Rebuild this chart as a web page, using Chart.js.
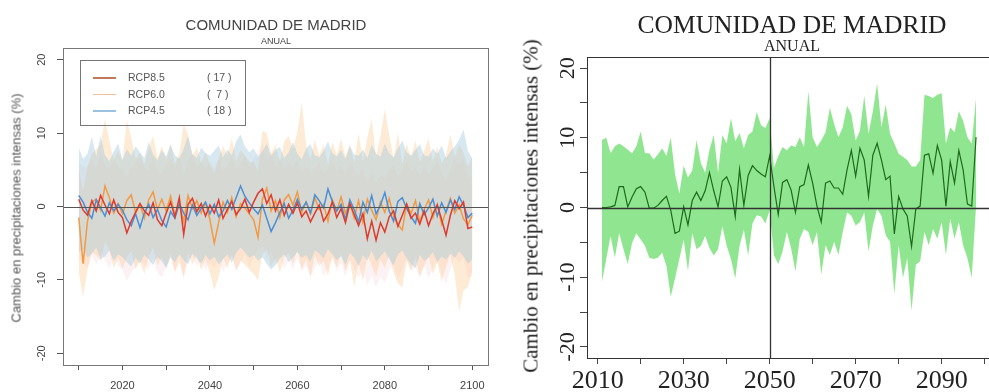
<!DOCTYPE html>
<html>
<head>
<meta charset="utf-8">
<script src="https://cdn.jsdelivr.net/npm/chart.js@4.4.1/dist/chart.umd.min.js"></script>
<style>
  html, body { margin: 0; padding: 0; background: #fff; overflow: hidden; }
  #page { position: relative; width: 989px; height: 392px; overflow: hidden; }
  canvas { position: absolute; top: 0; }
  #left { left: 0; }
  #right { left: 500px; }
  .t { position: absolute; white-space: pre; transform: translate(-50%, -50%); line-height: 1; }
  .rot { transform: translate(-50%, -50%) rotate(-90deg); }
  .sans { font-family: "Liberation Sans", Arial, sans-serif; color: #444; }
  .serif { font-family: "Liberation Serif", "Times New Roman", serif; color: #222; }
  #legend { position: absolute; left: 80px; top: 60px; width: 164px; height: 64px; border: 1px solid #777; }
  #legend .sw { position: absolute; left: 12px; width: 23px; height: 1.5px; }
  #legend span { position: absolute; font: 10.5px "Liberation Sans", Arial, sans-serif; color: #555; transform: translateY(-50%); white-space: pre; }
</style>
</head>
<body>
<div id="page">
  <canvas id="left" width="500" height="392"></canvas>
  <canvas id="right" width="500" height="392"></canvas>

  <div class="t sans" style="left:276px;top:24px;font-size:15px;">COMUNIDAD DE MADRID</div>
  <div class="t sans" style="left:276px;top:41px;font-size:9px;">ANUAL</div>
  <div class="t sans rot" style="left:16px;top:208px;font-size:13px;color:#555;">Cambio en precipitaciones intensas (%)</div>
  <div id="legend"></div>

  <div class="t serif" style="left:792px;top:25px;font-size:25.5px;">COMUNIDAD DE MADRID</div>
  <div class="t serif" style="left:792px;top:46px;font-size:16px;">ANUAL</div>
  <div class="t serif rot" style="left:531px;top:206px;font-size:21px;">Cambio en precipitaciones intensas (%)</div>
</div>

<script>
// ---------- left panel: three scenarios, 2010-2100 ----------
const leftYears = Array.from({ length: 91 }, (_, i) => 2010 + i);
const scenarioNames = ["RCP8.5", "RCP6.0", "RCP4.5"];
const modelCounts = [17, 7, 18];

const rcp85 = [
  1.0, -0.5, -1.2, 0.8, -0.6, 1.5, 0.2, -1.0, 0.9, -0.8,
  -1.5, -3.6, -2.0, -0.8, 0.4, -0.6, -1.2, 0.5, -1.8, -2.6,
  -0.9, 0.6, -1.4, 1.2, -3.8, 0.3, 1.1, -0.7, 0.4, -1.3,
  0.2, -0.9, 0.9, -1.6, -0.4, 0.7, -1.1, -0.3, 1.0, -0.8,
  0.6, 1.8, 2.4, 0.4, 1.6, -0.6, 0.9, -1.2, 0.3, -0.9,
  0.5, -1.4, -0.6, -2.1, -0.9, 0.2, -2.0, -1.0, 0.6, -1.5,
  -0.3, -2.2, 0.4, -1.1, -2.6, -1.0, -4.4, -2.0, -4.6, -2.2,
  -3.5, -1.4, -0.6, -2.7, -1.2, 0.3, -1.6, -0.9, -2.4, -0.6,
  -2.6, -1.0, 0.2, -1.8, -3.9, -1.2, 0.8, -0.3, 0.6, -3.0,
  -2.8
];
const rcp60 = [
  -1.5, -7.8, -2.0, 0.6, 1.0, -0.5, 2.8, 1.2, -0.9, 0.4,
  -1.0, 0.8, 1.6, -0.8, 0.3, -1.6, 0.9, 2.0, -0.4, 1.0,
  -0.6, 1.4, -1.2, 0.2, -2.0, 1.5, -0.3, 0.8, -0.9, 0.5,
  -1.8, -5.0, -2.2, 0.6, -0.8, 1.2, -1.4, 0.4, -0.2, -1.0,
  -1.8, -4.2, 1.0, 2.5, -0.6, 0.8, -1.5, 0.9, 1.6, 0.2,
  2.0, -0.8, 0.6, -1.0, 1.2, -0.4, 0.3, -2.0, 0.9, -0.6,
  1.3, -0.9, 0.5, -1.6, 0.8, -2.2, 1.0, -0.5, -1.8, 0.6,
  -0.8, 1.1, -1.3, -2.5, -3.2, 0.4, -1.0, 0.8, -2.0, -0.4,
  0.9, -1.5, 0.3, -2.4, -0.6, 1.1, -0.9, 0.2, -1.7, -2.5,
  -1.2
];
const rcp45 = [
  1.5, 0.6, -0.8, -1.6, 0.9, -0.2, -1.3, 0.5, -0.6, 0.3,
  -0.5, -1.8, -2.6, -1.0, -2.9, -0.9, 0.3, -1.5, -0.4, -1.9,
  -2.8, -0.7, -1.6, 0.4, -0.9, -1.8, 0.2, -1.2, -0.3, 0.6,
  -1.0, 0.3, -1.4, -0.6, 0.8, -0.4, 1.2, 2.8, 1.4, 0.5,
  -0.3, -1.0, 0.2, -1.6, -3.4, -2.2, -0.8, 0.4, -1.6, -0.5,
  1.0, -0.4, 0.6, -0.9, 1.6, 0.8, -0.2, 2.4, 0.7, -0.6,
  0.3, -1.8, 0.9, -0.4, -2.1, 0.6, -0.8, 1.5, -1.0, 0.2,
  1.9, -0.6, -2.0, 0.7, 1.2, -0.3, -1.4, -2.3, 0.4, -1.1,
  -0.2, 1.0, -1.3, 0.5, -0.8, 0.9, -0.4, 1.3, 0.2, -1.5,
  -0.9
];
const rcp85Hi = [
  6.0, 5.5, 5.2, 6.4, 5.0, 7.2, 5.6, 5.1, 6.3, 5.4,
  5.0, 4.2, 5.3, 5.9, 6.6, 5.2, 5.0, 6.8, 4.8, 4.5,
  5.6, 6.4, 5.1, 7.0, 4.3, 6.2, 7.1, 5.3, 6.0, 5.1,
  6.1, 5.2, 6.6, 4.9, 5.5, 6.7, 5.0, 5.8, 6.9, 5.3,
  6.4, 7.5, 8.6, 6.2, 7.4, 5.3, 6.6, 4.9, 6.1, 5.2,
  6.3, 4.9, 5.5, 4.6, 5.2, 6.0, 4.5, 5.1, 6.5, 4.8,
  5.6, 4.3, 6.1, 5.0, 4.2, 5.2, 3.4, 4.6, 3.2, 4.4,
  3.8, 5.0, 5.7, 4.1, 5.0, 6.2, 4.8, 5.3, 4.2, 5.6,
  4.3, 5.2, 6.1, 4.6, 3.5, 5.0, 6.6, 5.8, 6.4, 3.9,
  4.1
];
const rcp85Lo = [
  -7.0, -7.8, -8.4, -6.6, -7.9, -6.2, -7.3, -8.5, -6.8, -8.1,
  -8.6, -10.2, -9.0, -8.2, -7.1, -8.0, -8.6, -6.9, -9.1, -9.6,
  -8.3, -7.0, -8.8, -6.7, -9.8, -7.4, -6.6, -8.2, -7.2, -8.7,
  -7.5, -8.4, -6.9, -8.9, -7.8, -6.8, -8.6, -7.7, -6.5, -8.3,
  -6.9, -5.8, -5.2, -7.2, -6.0, -8.0, -6.6, -8.5, -7.3, -8.6,
  -7.0, -8.8, -8.0, -9.6, -8.4, -7.3, -9.5, -8.4, -6.9, -8.9,
  -7.7, -9.6, -7.2, -8.5, -9.8, -8.4, -10.8, -9.4, -11.0, -9.6,
  -10.4, -8.7, -7.9, -9.9, -8.6, -7.0, -8.9, -8.2, -9.6, -7.9,
  -9.8, -8.3, -7.2, -9.1, -10.5, -8.6, -6.8, -7.7, -7.0, -9.8,
  -9.5
];
const rcp60Hi = [
  5.0, 2.0, 5.5, 7.2, 7.8, 8.5, 12.0, 9.0, 6.4, 7.6,
  6.2, 11.8, 9.4, 6.5, 7.4, 5.8, 8.0, 9.6, 6.6, 8.2,
  6.4, 8.6, 5.9, 7.2, 11.2, 9.8, 6.8, 8.1, 6.0, 7.4,
  5.8, 4.5, 6.6, 8.2, 7.0, 9.3, 6.3, 7.7, 7.0, 6.1,
  6.0, 4.8, 10.3, 10.0, 7.2, 8.4, 6.0, 8.9, 9.6, 7.8,
  10.2, 14.2, 8.3, 6.4, 9.1, 7.0, 8.4, 5.8, 8.8, 7.1,
  9.2, 6.8, 8.5, 6.0, 10.0, 6.2, 9.4, 11.9, 6.8, 9.6,
  13.3, 9.8, 6.5, 10.0, 5.8, 8.6, 6.7, 9.0, 6.1, 7.6,
  9.3, 6.2, 8.1, 5.9, 7.0, 9.8, 6.8, 8.5, 7.4, 5.5,
  6.8
];
const rcp60Lo = [
  -9.0, -12.3, -8.6, -6.2, -6.6, -7.5, -4.8, -6.0, -8.4, -7.0,
  -8.5, -6.9, -6.0, -8.6, -7.4, -9.2, -6.8, -5.6, -8.0, -6.9,
  -8.2, -6.4, -9.0, -7.5, -9.6, -6.3, -7.9, -6.6, -8.7, -7.2,
  -9.0, -11.4, -9.6, -7.0, -8.4, -6.5, -8.8, -7.4, -7.9, -8.6,
  -9.2, -10.0, -6.5, -5.8, -8.2, -7.0, -9.0, -6.9, -6.3, -7.8,
  -5.9, -8.6, -7.2, -9.6, -6.6, -8.1, -7.4, -9.4, -6.8, -8.3,
  -6.4, -8.8, -7.3, -11.0, -7.6, -10.2, -6.6, -8.0, -9.5, -7.2,
  -8.4, -6.5, -9.0, -10.5, -11.0, -7.4, -8.7, -6.9, -9.6, -8.1,
  -6.8, -9.2, -7.6, -10.3, -8.2, -6.5, -9.4, -14.3, -11.4, -11.0,
  -8.8
];
const rcp45Hi = [
  8.0, 6.5, 7.2, 9.5, 6.8, 9.6, 7.0, 6.2, 7.5, 8.6,
  6.4, 7.8, 6.9, 8.2, 7.4, 6.6, 8.8, 7.1, 6.3, 7.7,
  6.8, 8.4, 7.0, 6.5, 7.9, 9.6, 7.2, 6.6, 8.0, 7.3,
  6.9, 7.6, 8.3, 6.7, 7.8, 7.0, 8.9, 9.8, 8.2, 7.4,
  7.9, 6.8, 7.5, 8.6, 6.9, 7.7, 8.1, 6.6, 7.4, 8.8,
  7.2, 6.4, 7.9, 8.5, 7.0, 6.7, 7.6, 8.9, 7.3, 6.8,
  7.7, 6.5, 8.2, 7.1, 6.9, 7.8, 6.6, 8.4, 7.2, 6.8,
  8.6, 7.3, 6.7, 7.9, 9.0, 7.4, 6.9, 7.7, 8.5, 7.0,
  6.8, 7.9, 7.2, 8.3, 6.6, 7.5, 8.2, 9.1, 10.5, 7.6,
  6.5
];
const rcp45Lo = [
  -6.2, -5.8, -7.0, -6.4, -5.6, -7.2, -6.8, -6.0, -7.4, -6.5,
  -6.9, -7.6, -8.2, -7.0, -7.8, -6.6, -7.2, -8.0, -6.8, -7.5,
  -8.4, -6.9, -7.6, -6.5, -7.3, -7.9, -6.4, -7.1, -7.8, -6.6,
  -7.4, -6.8, -7.9, -7.2, -6.5, -7.7, -6.3, -5.6, -6.2, -7.0,
  -6.6, -7.4, -6.9, -7.8, -8.6, -8.0, -7.1, -6.5, -7.6, -6.9,
  -6.2, -7.0, -6.6, -7.5, -6.0, -6.4, -7.1, -5.8, -6.5, -7.3,
  -6.8, -7.9, -6.3, -7.0, -8.1, -6.6, -7.4, -6.0, -7.5, -6.8,
  -6.1, -7.2, -8.0, -6.5, -6.0, -7.1, -7.8, -8.4, -6.6, -7.4,
  -7.0, -6.2, -7.6, -6.8, -7.3, -6.4, -7.0, -6.1, -6.8, -7.8,
  -7.2
];

// ---------- right panel: ensemble mean and spread, 2011-2098 ----------
const rightYears = Array.from({ length: 88 }, (_, i) => 2011 + i);
const meanChange = [
  0.0, 0.0, 0.1, 0.3, 3.0, 3.0, 0.1, 1.5, 2.7, 3.0,
  2.2, -0.1, -0.1, 0.3, 1.0, 1.6, -0.4, -3.7, -3.4, 0.1,
  -2.5, 1.0, 2.2, 1.0, 2.4, 5.0, 2.4, 0.1, 3.8, 4.4,
  2.9, -1.3, 5.5, 0.3, 4.6, 6.0, 5.3, 4.8, 4.4, 7.4,
  3.0, -1.0, 3.6, 4.0, 2.5, -0.7, 3.0, 3.3, 6.1, 3.5,
  0.2, -2.1, 3.5, 3.8, 2.8, 2.8, 1.9, 5.4, 8.2, 4.5,
  8.5, 6.8, 1.6, 7.5, 9.2, 6.8, 4.0, 4.5, -3.8, 1.6,
  -0.2, -1.2, -5.6, -0.2, 0.2, 7.5, 7.7, 4.9, 8.9, 6.8,
  0.2, 6.6, 3.5, 8.2, 5.4, 0.5, 0.2, 10.1
];
const spreadHi = [
  9.7, 10.0, 7.8, 8.8, 9.2, 8.8, 8.3, 7.8, 8.8, 10.9,
  7.8, 7.8, 6.9, 7.6, 8.5, 7.4, 10.0, 4.8, 2.0, 6.0,
  4.3, 5.3, 9.7, 6.4, 5.0, 8.3, 10.4, 5.0, 10.4, 9.2,
  12.8, 9.5, 10.7, 8.5, 10.4, 10.9, 13.7, 11.8, 11.4, 12.8,
  5.7, 7.4, 8.7, 8.2, 8.9, 8.7, 10.1, 8.7, 16.7, 10.1,
  8.7, 9.6, 10.8, 14.3, 12.0, 10.1, 11.5, 14.6, 13.4, 9.6,
  11.0, 16.0, 10.6, 13.8, 17.8, 11.5, 14.8, 10.6, 9.2, 7.7,
  7.3, 6.8, 5.9, 5.9, 6.8, 16.2, 16.0, 15.7, 16.2, 16.4,
  9.2, 11.5, 10.8, 13.8, 12.4, 10.1, 9.2, 15.7
];
const spreadLo = [
  -10.7, -7.4, -4.1, -7.2, -3.7, -6.0, -8.1, -5.1, -3.7, -4.6,
  -5.5, -7.2, -7.4, -7.2, -6.5, -8.4, -12.8, -10.2, -7.4, -4.6,
  -9.1, -3.7, -6.0, -5.5, -4.1, -5.8, -6.9, -6.0, -2.7, -5.5,
  -7.4, -10.2, -5.5, -3.2, -6.9, -2.3, -1.1, -1.3, -2.3, -0.4,
  -6.9, -8.1, -6.3, -3.5, -5.9, -9.2, -4.5, -3.1, -3.5, -5.4,
  -3.5, -9.6, -5.4, -6.8, -4.9, -6.8, -3.5, -0.7, -1.2, -2.6,
  -2.1, -0.7, -6.3, -2.6, -0.2, -1.2, -4.0, -4.9, -12.4, -5.4,
  -10.1, -7.3, -14.8, -8.2, -7.7, -3.5, -5.4, -3.1, -4.5, -2.1,
  -6.8, -1.6, -4.5, -2.1, -5.4, -7.3, -10.1, 0.2
];

// tick values
const leftXTicks = [2010, 2020, 2030, 2040, 2050, 2060, 2070, 2080, 2090, 2100];
const leftXLabels = [2020, 2040, 2060, 2080, 2100];
const leftYTicks = [-20, -10, 0, 10, 20];
const rightXTicks = [2010, 2020, 2030, 2040, 2050, 2060, 2070, 2080, 2090, 2100];
const rightXLabels = [2010, 2030, 2050, 2070, 2090];
const rightYTicks = [-20, -15, -10, -5, 0, 5, 10, 15, 20];
const rightYLabels = [-20, -10, 0, 10, 20];

const pts = (xs, ys) => xs.map((x, i) => ({ x: x, y: ys[i] }));

//legend for the left panel (html text)
const legendColors = ["#c07a5c", "#f4c09c", "#9cc2e2"];
const legend = document.getElementById("legend");
scenarioNames.forEach((name, i) => {
  const cy = 16 + i * 16.5;
  const sw = document.createElement("div");
  sw.className = "sw";
  sw.style.top = cy + "px";
  sw.style.background = legendColors[i];
  legend.appendChild(sw);
  const a = document.createElement("span");
  a.style.left = "47px"; a.style.top = cy + "px";
  a.textContent = name;
  legend.appendChild(a);
  const b = document.createElement("span");
  b.style.left = "126px"; b.style.top = cy + "px";
  b.textContent = "( " + String(modelCounts[i]).padStart(2, " ") + " )";
  legend.appendChild(b);
});

//plugin: box, zero line, optional vertical line, rotated y labels
const framePlugin = {
  id: "frame",
  afterDatasetsDraw(chart, args, o) {
    const { ctx, chartArea: a, scales: { x, y } } = chart;
    ctx.save();
    ctx.strokeStyle = o.lineColor;
    ctx.lineWidth = o.lineWidth;
    const y0 = Math.round(y.getPixelForValue(0)) + 0.5;
    ctx.beginPath();
    ctx.moveTo(a.left, y0); ctx.lineTo(a.right, y0);
    ctx.stroke();
    if (o.vline != null) {
      const vx = Math.round(x.getPixelForValue(o.vline)) + 0.5;
      ctx.beginPath();
      ctx.moveTo(vx, a.top); ctx.lineTo(vx, a.bottom);
      ctx.stroke();
    }
    ctx.strokeStyle = o.boxColor;
    ctx.lineWidth = 1;
    ctx.strokeRect(a.left + 0.5, a.top + 0.5, a.right - a.left, a.bottom - a.top);
    ctx.font = o.font;
    ctx.fillStyle = o.labelColor;
    ctx.textAlign = "center";
    ctx.textBaseline = "middle";
    o.labels.forEach(v => {
      ctx.save();
      ctx.translate(o.labelX, y.getPixelForValue(v));
      ctx.rotate(-Math.PI / 2);
      ctx.fillText(String(v), 0, 0);
      ctx.restore();
    });
    ctx.restore();
  }
};

function band(lo, hi, years, color, loIndex) {
  return [
    { data: pts(years, lo), borderWidth: 0, pointRadius: 0, fill: false, order: 5 },
    { data: pts(years, hi), borderWidth: 0, pointRadius: 0, backgroundColor: color, fill: { target: loIndex }, order: 5 }
  ];
}

new Chart(document.getElementById("left"), {
  type: "line",
  plugins: [framePlugin],
  data: {
    datasets: [
      // fills are painted last-to-first, so the blue band ends up on top
      ...band(rcp45Lo, rcp45Hi, leftYears, "rgba(160,200,220,0.42)", 0),
      ...band(rcp60Lo, rcp60Hi, leftYears, "rgba(253,200,140,0.36)", 2),
      ...band(rcp85Lo, rcp85Hi, leftYears, "rgba(235,160,180,0.14)", 4),
      { data: pts(leftYears, rcp60), borderColor: "#f29a44", borderWidth: 1.5, pointRadius: 0, fill: false, order: 3 },
      { data: pts(leftYears, rcp45), borderColor: "#4d8fd3", borderWidth: 1.5, pointRadius: 0, fill: false, order: 2 },
      { data: pts(leftYears, rcp85), borderColor: "#de3b2c", borderWidth: 1.5, pointRadius: 0, fill: false, order: 1 }
    ]
  },
  options: {
    responsive: false,
    animation: false,
    devicePixelRatio: 1,
    layout: { padding: { left: 0, top: 48, right: 12, bottom: 0 } },
    plugins: {
      legend: { display: false },
      tooltip: { enabled: false },
      filler: { drawTime: "beforeDatasetsDraw" },
      frame: { lineColor: "#555", lineWidth: 1, boxColor: "#777", font: '11px "Liberation Sans"', labelColor: "#444", labelX: 42, labels: leftYTicks }
    },
    scales: {
      x: {
        type: "linear", min: 2006.4, max: 2103.6,
        afterBuildTicks: s => { s.ticks = leftXTicks.map(v => ({ value: v })); },
        afterFit: s => { s.height = 27; s.paddingLeft = 0; s.paddingRight = 0; },
        ticks: {
          autoSkip: false, maxRotation: 0, padding: 9, color: "#444",
          font: { family: "Liberation Sans", size: 11 },
          callback: v => leftXLabels.includes(v) ? String(v) : ""
        },
        grid: { drawOnChartArea: false, tickLength: 5, color: "#555", tickColor: "#555" },
        border: { display: false }
      },
      y: {
        type: "linear", min: -21.6, max: 21.6,
        afterBuildTicks: s => { s.ticks = leftYTicks.map(v => ({ value: v })); },
        afterFit: s => { s.width = 63; },
        ticks: { display: false },
        grid: { drawOnChartArea: false, tickLength: 6, color: "#555", tickColor: "#555" },
        border: { display: false }
      }
    }
  }
});

new Chart(document.getElementById("right"), {
  type: "line",
  plugins: [framePlugin],
  data: {
    datasets: [
      ...band(spreadLo, spreadHi, rightYears, "rgba(125,226,125,0.85)", 0),
      { data: pts(rightYears, meanChange), borderColor: "#1c6a1c", borderWidth: 1.2, pointRadius: 0, fill: false, order: 1 }
    ]
  },
  options: {
    responsive: false,
    animation: false,
    devicePixelRatio: 1,
    layout: { padding: { left: 0, top: 57, right: 9, bottom: 0 } },
    plugins: {
      legend: { display: false },
      tooltip: { enabled: false },
      filler: { drawTime: "beforeDatasetsDraw" },
      frame: { lineColor: "#333", lineWidth: 1.3, vline: 2050, boxColor: "#333", font: '22px "Liberation Serif"', labelColor: "#222", labelX: 68, labels: rightYLabels }
    },
    scales: {
      x: {
        type: "linear", min: 2007.52, max: 2101.48,
        afterBuildTicks: s => { s.ticks = rightXTicks.map(v => ({ value: v })); },
        afterFit: s => { s.height = 34; s.paddingLeft = 0; s.paddingRight = 0; },
        ticks: {
          autoSkip: false, maxRotation: 0, padding: 2, color: "#222",
          font: { family: "Liberation Serif", size: 26 },
          callback: v => rightXLabels.includes(v) ? String(v) : ""
        },
        grid: { drawOnChartArea: false, tickLength: 6, color: "#444", tickColor: "#444" },
        border: { display: false }
      },
      y: {
        type: "linear", min: -21.6, max: 21.6,
        afterBuildTicks: s => { s.ticks = rightYTicks.map(v => ({ value: v })); },
        afterFit: s => { s.width = 87; },
        ticks: { display: false },
        grid: { drawOnChartArea: false, tickLength: 7, color: "#444", tickColor: "#444" },
        border: { display: false }
      }
    }
  }
});
</script>
</body>
</html>
